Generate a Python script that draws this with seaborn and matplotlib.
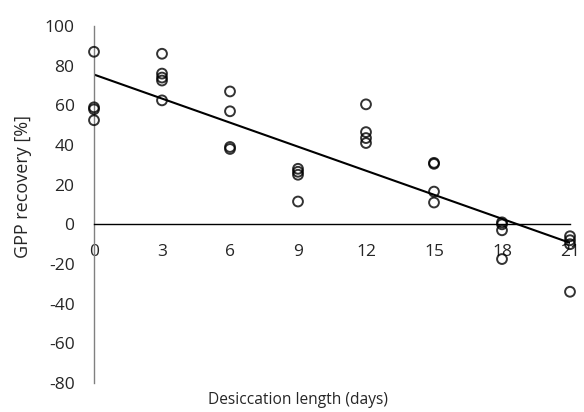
import matplotlib
matplotlib.use("Agg")
import matplotlib.pyplot as plt
import seaborn as sns
import pandas as pd

# Data
days = [0, 0, 0, 0,
        3, 3, 3, 3, 3,
        6, 6, 6, 6,
        9, 9, 9, 9,
        12, 12, 12, 12,
        15, 15, 15, 15,
        18, 18, 18, 18,
        21, 21, 21, 21]
gpp_recovery = [87, 59, 58, 52.5,
                86, 76, 74, 72.5, 62.5,
                67, 57, 39, 38,
                28, 26.5, 25, 11.5,
                60.5, 46.5, 43.5, 41,
                31, 30.5, 16.5, 11,
                1, 0, -3, -17.5,
                -6, -8, -10, -34]
x_ticks = [0, 3, 6, 9, 12, 15, 18, 21]
y_ticks = [-80, -60, -40, -20, 0, 20, 40, 60, 80, 100]

df = pd.DataFrame({"days": days, "gpp": gpp_recovery})

sns.set_style("white")
plt.rcParams["font.family"] = ["Open Sans", "DejaVu Sans"]

fig = plt.figure(figsize=(5.84, 4.12), dpi=100)
ax = fig.add_axes([94/584, 1-383/412, (570-94)/584, (383-26)/412])

for s in ["top", "right"]:
    ax.spines[s].set_visible(False)
ax.spines["bottom"].set_position(("data", 0))
ax.spines["bottom"].set_color("black")
ax.spines["bottom"].set_linewidth(1.0)
ax.spines["left"].set_color("#808080")
ax.spines["left"].set_linewidth(1.0)

sns.regplot(data=df, x="days", y="gpp", ax=ax, ci=None, truncate=True,
            scatter_kws=dict(s=50, facecolors="none", edgecolors="black",
                             linewidths=1.4, clip_on=False, zorder=3),
            line_kws=dict(color="black", linewidth=1.5, zorder=2))

ax.set_xlim(0, 21)
ax.set_ylim(-80, 100)
ax.set_xticks(x_ticks)
ax.set_yticks(y_ticks)
ax.set_xticklabels([str(t) for t in x_ticks])
ax.set_yticklabels([str(t) for t in y_ticks])

ax.tick_params(axis="x", length=0, pad=14, labelsize=12.5)
ax.tick_params(axis="y", length=0, pad=14, labelsize=12.5)

ax.set_xlabel("Desiccation length (days)", fontsize=11.2, va="center")
ax.set_ylabel("GPP recovery [%]", fontsize=13, va="center")
ax.xaxis.set_label_coords((298-94)/476, -(400-383)/357)
ax.yaxis.set_label_coords(-(94-23)/476, (383-187)/357)

fig.savefig("out.png", dpi=100)
